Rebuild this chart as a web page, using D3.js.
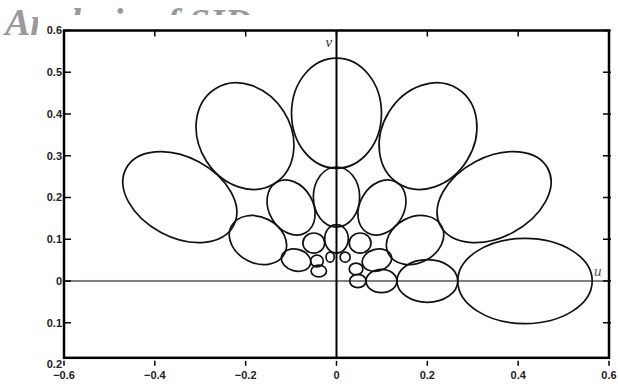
<!DOCTYPE html>
<html>
<head>
<meta charset="utf-8">
<script src="https://cdn.jsdelivr.net/npm/d3@7"></script>
<style>
  body { margin: 0; background: #fff; }
  svg { display: block; }
</style>
</head>
<body>
<svg id="chart" width="618" height="390"></svg>
<script>
// axis ticks
var xTicks = [-0.6, -0.4, -0.2, 0, 0.2, 0.4, 0.6];
var xTickLabels = ["\u22120.6", "\u22120.4", "\u22120.2", "0", "0.2", "0.4", "0.6"];
var yTicks = [0.6, 0.5, 0.4, 0.3, 0.2, 0.1, 0, -0.1, -0.2];
var yTickLabels = ["0.6", "0.5", "0.4", "0.3", "0.2", "0.1", "0", "0.1", "0.2"];

// ellipses: centre (u, v), semi axes (a along u, b along v), tilt in degrees
var ellU = [0, -0.2015, 0.2015, -0.345, 0.347, 0.415, 0.200, 0.099, 0.047, 0, -0.100, 0.100,
            -0.173, 0.173, 0, -0.050, 0.052, -0.089, 0.089, -0.043, -0.039, -0.014, 0.019, 0.043];
var ellV = [0.402, 0.347, 0.347, 0.201, 0.201, 0, 0, 0, 0, 0.201, 0.176, 0.176,
            0.098, 0.098, 0.101, 0.091, 0.091, 0.050, 0.050, 0.048, 0.024, 0.057, 0.057, 0.029];
var ellA = [0.099, 0.123, 0.123, 0.134, 0.134, 0.148, 0.067, 0.034, 0.018, 0.051, 0.064, 0.064,
            0.066, 0.066, 0.026, 0.024, 0.024, 0.033, 0.033, 0.014, 0.017, 0.009, 0.011, 0.015];
var ellB = [0.132, 0.110, 0.110, 0.096, 0.096, 0.102, 0.051, 0.028, 0.016, 0.072, 0.053, 0.053,
            0.055, 0.055, 0.034, 0.024, 0.024, 0.026, 0.026, 0.014, 0.014, 0.012, 0.012, 0.014];
var ellTilt = [0, 58, -58, 28, -28, 0, 0, 0, 0, 0, 60, -60,
               27, -27, 0, 0, 0, 15, -15, 0, 0, 0, 0, 0];

var svg = d3.select("#chart");

var x = d3.scaleLinear().domain([-0.6, 0.6]).range([64, 609]);
var y = d3.scaleLinear().domain([-0.2, 0.6]).range([364.5, 30.5]);
var yBottom = -0.184; // frame stops a bit above the last tick

// washed out title, mostly hidden behind the figure
svg.append("text")
  .attr("x", 5).attr("y", 35)
  .style("font-family", "'Liberation Serif', 'Times New Roman', serif")
  .style("font-weight", "bold").style("font-style", "italic")
  .style("font-size", "38px").style("fill", "#9a9a9a")
  .text("Analysis of SID");
svg.append("rect")
  .attr("x", 38).attr("y", 15).attr("width", 580).attr("height", 375)
  .attr("fill", "#fff");

var ells = ellU.map(function(d, i) {
  return { u: d, v: ellV[i], a: ellA[i], b: ellB[i], t: ellTilt[i] };
});

var g = svg.append("g");

// u axis (thin green-grey)
g.append("line")
  .attr("x1", x(-0.6)).attr("x2", x(0.6))
  .attr("y1", y(0)).attr("y2", y(0))
  .attr("stroke", "#4d5d4d").attr("stroke-width", 1.5);

g.selectAll("ellipse").data(ells).enter().append("ellipse")
  .attr("cx", function(d) { return x(d.u); })
  .attr("cy", function(d) { return y(d.v); })
  .attr("rx", function(d) { return x(d.u + d.a) - x(d.u); })
  .attr("ry", function(d) { return y(d.v) - y(d.v + d.b); })
  .attr("transform", function(d) { return "rotate(" + d.t + "," + x(d.u) + "," + y(d.v) + ")"; })
  .attr("fill", "none").attr("stroke", "#111").attr("stroke-width", 1.7);

// v axis
g.append("line")
  .attr("x1", x(0)).attr("x2", x(0))
  .attr("y1", y(0.6)).attr("y2", y(yBottom))
  .attr("stroke", "#000").attr("stroke-width", 2);

// frame
g.append("rect")
  .attr("x", x(-0.6)).attr("y", y(0.6))
  .attr("width", x(0.6) - x(-0.6)).attr("height", y(yBottom) - y(0.6))
  .attr("fill", "none").attr("stroke", "#000").attr("stroke-width", 2.5);

// ticks
var tickStyle = function(s) { return s.attr("stroke", "#000").attr("stroke-width", 1.5); };
yTicks.slice(0, 8).forEach(function(t) {
  g.append("line").attr("x1", x(-0.6)).attr("x2", x(-0.6) + 7)
    .attr("y1", y(t)).attr("y2", y(t)).call(tickStyle);
  g.append("line").attr("x1", x(0.6) - 6).attr("x2", x(0.6) + 2)
    .attr("y1", y(t)).attr("y2", y(t)).call(tickStyle);
});
xTicks.forEach(function(t) {
  g.append("line").attr("x1", x(t)).attr("x2", x(t))
    .attr("y1", y(yBottom) + 3).attr("y2", y(yBottom) + 8).call(tickStyle);
  g.append("line").attr("x1", x(t)).attr("x2", x(t))
    .attr("y1", y(0.6)).attr("y2", y(0.6) + 6).call(tickStyle);
});

var labelFont = "'Liberation Sans', Arial, sans-serif";
g.selectAll(".ylab").data(yTicks).enter().append("text")
  .attr("class", "ylab")
  .attr("x", x(-0.6) - 2)
  .attr("y", function(d) { return y(d); })
  .attr("dy", "0.35em")
  .attr("text-anchor", "end")
  .style("font-family", labelFont).style("font-weight", "bold")
  .style("font-size", "11px").style("fill", "#222")
  .text(function(d, i) { return yTickLabels[i]; });

g.selectAll(".xlab").data(xTicks).enter().append("text")
  .attr("class", "xlab")
  .attr("x", function(d) { return x(d); })
  .attr("y", 379)
  .attr("text-anchor", "middle")
  .style("font-family", labelFont).style("font-weight", "bold")
  .style("font-size", "11px").style("fill", "#222")
  .text(function(d, i) { return xTickLabels[i]; });

// axis names
g.append("text").attr("x", x(0) - 11).attr("y", y(0.6) + 16)
  .style("font-family", "'Liberation Serif', serif").style("font-style", "italic")
  .style("font-size", "15px").style("fill", "#333").text("v");
g.append("text").attr("x", x(0.6) - 15).attr("y", y(0) - 5)
  .style("font-family", "'Liberation Serif', serif").style("font-style", "italic")
  .style("font-size", "15px").style("fill", "#555").text("u");
</script>
</body>
</html>
